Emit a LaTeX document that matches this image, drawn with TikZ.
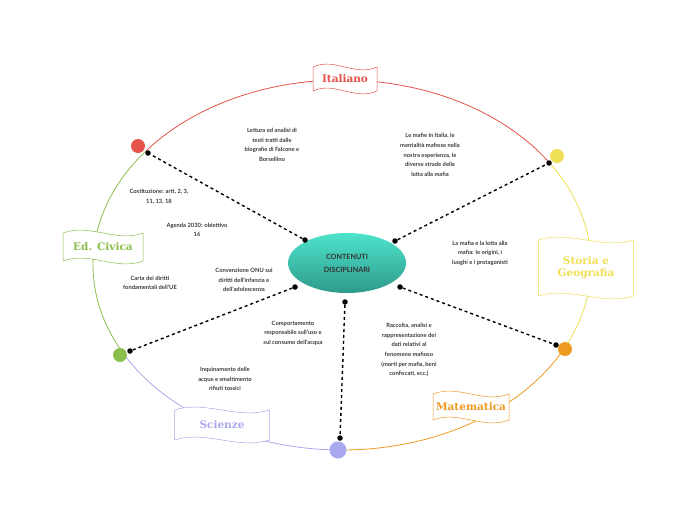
\documentclass[tikz,border=0pt]{standalone}
\usepackage{fontspec}
\setmainfont{Lato}
\newfontfamily\slab{DejaVu Serif}
\usetikzlibrary{shapes.geometric}
\definecolor{cred}{HTML}{E5534B}
\definecolor{cyel}{HTML}{EEDF55}
\definecolor{cora}{HTML}{EE9B22}
\definecolor{cpur}{HTML}{AAA8EE}
\definecolor{cgre}{HTML}{8CBE4E}
\definecolor{txt}{HTML}{3A3A3A}
\definecolor{ctop}{HTML}{4EE3CB}
\definecolor{cbot}{HTML}{2E9A8B}
\newcommand\myflag[6]{%
 \begin{scope}[shift={(#1,#2)}]
 \draw[#5,line width=0.5pt,fill=white] (-#3/2,-#4/2) .. controls (-#3/6,-#4/2-10) and (#3/6,-#4/2+10) .. (#3/2,-#4/2) -- (#3/2,#4/2) .. controls (#3/6,#4/2+10) and (-#3/6,#4/2-10) .. (-#3/2,#4/2) -- cycle;
 \node[#5,font=\slab\bfseries\fontsize{10.5}{12}\selectfont,align=center] at (0,0) {#6};
 \end{scope}}
\begin{document}
\begin{tikzpicture}[x=1pt,y=-1pt,
 lab/.style={font=\bfseries\fontsize{5.8}{9.6}\selectfont,text=txt,align=center},
 con/.style={line width=1.4pt,dash pattern=on 3pt off 3pt},
 bd/.style={circle,fill=black,inner sep=0pt,minimum size=5.5pt}]
\useasboundingbox (0,0) rectangle (697,520);
\def\rx{249}\def\ry{185}
\tikzset{ring/.style={line width=0.8pt}}
\draw[cred,ring] (342,265) ++(-141.9:{\rx} and {\ry}) arc[start angle=-141.9,end angle=-34.3,x radius=\rx,y radius=\ry];
\draw[cyel,ring] (342,265) ++(-34.3:{\rx} and {\ry}) arc[start angle=-34.3,end angle=26.9,x radius=\rx,y radius=\ry];
\draw[cora,ring] (342,265) ++(26.9:{\rx} and {\ry}) arc[start angle=26.9,end angle=90,x radius=\rx,y radius=\ry];
\draw[cpur,ring] (342,265) ++(90:{\rx} and {\ry}) arc[start angle=90,end angle=151.4,x radius=\rx,y radius=\ry];
\draw[cgre,ring] (342,265) ++(151.4:{\rx} and {\ry}) arc[start angle=151.4,end angle=218.1,x radius=\rx,y radius=\ry];
\node[circle,fill=cred,minimum size=14pt,inner sep=0] (dr) at (138,146) {};
\node[circle,fill=cyel,minimum size=14pt,inner sep=0] (dy) at (557,156) {};
\node[circle,fill=cora,minimum size=14pt,inner sep=0] (do) at (565,349) {};
\node[circle,fill=cpur,minimum size=17pt,inner sep=0] (dp) at (338,450) {};
\node[circle,fill=cgre,minimum size=14pt,inner sep=0] (dg) at (120,355) {};
\myflag{345}{79}{64}{24}{cred}{Italiano}
\myflag{586}{268}{95}{56}{cyel}{Storia e\\Geografia}
\myflag{471}{407}{76}{26}{cora}{Matematica}
\myflag{222}{425}{95}{30}{cpur}{Scienze}
\myflag{103}{247}{80}{28}{cgre}{Ed. Civica}
\node[ellipse,minimum width=118pt,minimum height=60pt,top color=ctop,bottom color=cbot,draw=none,
 font=\bfseries\fontsize{7.2}{13}\selectfont,text=black!80,align=center] (c) at (347,263) {CONTENUTI\\DISCIPLINARI};
\node[bd] (a1) at (305,240) {}; \node[bd] (b1) at (148,153) {};
\node[bd] (a2) at (395,241) {}; \node[bd] (b2) at (549,163) {};
\node[bd] (a3) at (400,287) {}; \node[bd] (b3) at (556,345) {};
\node[bd] (a4) at (345,302) {}; \node[bd] (b4) at (340,438) {};
\node[bd] (a5) at (295,287) {}; \node[bd] (b5) at (130,351) {};
\draw[con] (a1)--(b1); \draw[con] (a2)--(b2); \draw[con] (a3)--(b3); \draw[con] (a4)--(b4); \draw[con] (a5)--(b5);
\node[lab] (t1) at (272,145) {Lettura ed analisi di\\testi tratti dalle\\biografie di Falcone e\\Borsellino};
\node[lab] (t2) at (430,155) {Le mafie in Italia, le\\mentalità mafiose nella\\nostra esperienza, le\\diverse strade della\\lotta alla mafia};
\node[lab] (t3) at (159,197) {Costituzione: artt, 2, 3,\\11, 13, 18};
\node[lab] (t4) at (197,230) {Agenda 2030: obiettivo\\16};
\node[lab] (t5) at (244,280) {Convenzione ONU sui\\diritti dell'infanzia e\\dell'adolescenza};
\node[lab] (t6) at (150,283) {Carta dei diritti\\fondamentali dell'UE};
\node[lab] (t7) at (480,253) {La mafia e la lotta alla\\mafia: le origini, i\\luoghi e i protagonisti};
\node[lab] (t8) at (293,333) {Comportamento\\responsabile sull'uso e\\sul consumo dell'acqua};
\node[lab] (t9) at (409,350) {Raccolta, analisi e\\rappresentazione dei\\dati relativi al\\fenomeno mafioso\\(morti per mafia, beni\\confiscati, ecc.)};
\node[lab] (t10) at (225,379) {Inquinamento delle\\acque e smaltimento\\rifiuti tossici};
\end{tikzpicture}
\end{document}
